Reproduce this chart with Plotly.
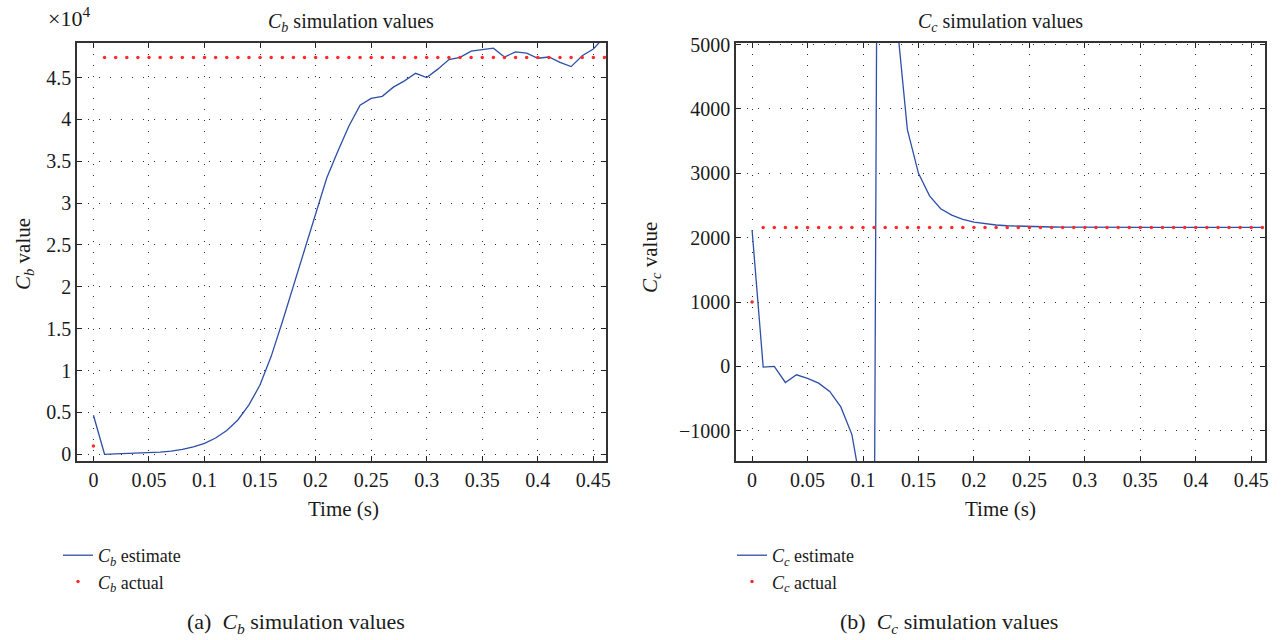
import plotly.graph_objects as go

# ---------------- data ----------------
time_s = [0.00, 0.01, 0.02, 0.03, 0.04, 0.05, 0.06, 0.07, 0.08, 0.09,
          0.10, 0.11, 0.12, 0.13, 0.14, 0.15, 0.16, 0.17, 0.18, 0.19,
          0.20, 0.21, 0.22, 0.23, 0.24, 0.25, 0.26, 0.27, 0.28, 0.29,
          0.30, 0.31, 0.32, 0.33, 0.34, 0.35, 0.36, 0.37, 0.38, 0.39,
          0.40, 0.41, 0.42, 0.43, 0.44, 0.45, 0.46]

cb_estimate = [4660, 0, 40, 80, 120, 180, 260, 380, 580, 880,
               1300, 1950, 2850, 4100, 5900, 8300, 11700, 15800, 20100, 24400,
               28700, 33000, 36200, 39200, 41700, 42500, 42750, 43850, 44600, 45500,
               45000, 46000, 47150, 47400, 48150, 48300, 48500, 47450, 48050, 47900,
               47300, 47450, 46800, 46300, 47600, 48400, 49850]

cb_actual = [1000, 47400, 47400, 47400, 47400, 47400, 47400, 47400, 47400, 47400,
             47400, 47400, 47400, 47400, 47400, 47400, 47400, 47400, 47400, 47400,
             47400, 47400, 47400, 47400, 47400, 47400, 47400, 47400, 47400, 47400,
             47400, 47400, 47400, 47400, 47400, 47400, 47400, 47400, 47400, 47400,
             47400, 47400, 47400, 47400, 47400, 47400, 47400]

cc_estimate = [2120, -10, 0, -250, -130, -185, -260, -390, -630, -1060,
               -2040, -3400, 34600, 5450, 3680, 3000, 2650, 2450, 2350, 2285,
               2240, 2215, 2197, 2185, 2178, 2173, 2169, 2166, 2164, 2162,
               2161, 2160, 2160, 2160, 2160, 2160, 2160, 2160, 2160, 2160,
               2160, 2160, 2160, 2160, 2160, 2160, 2160]

cc_actual = [1000, 2160, 2160, 2160, 2160, 2160, 2160, 2160, 2160, 2160,
             2160, 2160, 2160, 2160, 2160, 2160, 2160, 2160, 2160, 2160,
             2160, 2160, 2160, 2160, 2160, 2160, 2160, 2160, 2160, 2160,
             2160, 2160, 2160, 2160, 2160, 2160, 2160, 2160, 2160, 2160,
             2160, 2160, 2160, 2160, 2160, 2160, 2160]

x_tickvals = [0, 0.05, 0.1, 0.15, 0.2, 0.25, 0.3, 0.35, 0.4, 0.45]
x_ticktext = ["0", "0.05", "0.1", "0.15", "0.2", "0.25", "0.3", "0.35", "0.4", "0.45"]
cb_tickvals = [0, 5000, 10000, 15000, 20000, 25000, 30000, 35000, 40000, 45000]
cb_ticktext = ["0", "0.5", "1", "1.5", "2", "2.5", "3", "3.5", "4", "4.5"]
cc_tickvals = [-1000, 0, 1000, 2000, 3000, 4000, 5000]
cc_ticktext = ["\u22121000", "0", "1000", "2000", "3000", "4000", "5000"]

# ---------------- styling ----------------
W, H = 1282, 640
FONT = "Liberation Serif"
BLUE = "#2d4fa6"
RED = "#ff2a2a"
TXT = "#1a1a1a"


def px(x):
    return x / W


def py(y):
    return 1 - y / H


fig = go.Figure()

fig.add_trace(go.Scatter(x=time_s, y=cb_estimate, mode="lines",
                         line=dict(color=BLUE, width=1.3),
                         name="<i>C<sub>b</sub></i> estimate",
                         xaxis="x", yaxis="y", legend="legend"))
fig.add_trace(go.Scatter(x=time_s, y=cb_actual, mode="markers",
                         marker=dict(color=RED, size=3.5),
                         name="<i>C<sub>b</sub></i> actual",
                         xaxis="x", yaxis="y", legend="legend"))
fig.add_trace(go.Scatter(x=time_s, y=cc_estimate, mode="lines",
                         line=dict(color=BLUE, width=1.3),
                         name="<i>C<sub>c</sub></i> estimate",
                         xaxis="x2", yaxis="y2", legend="legend2"))
fig.add_trace(go.Scatter(x=time_s, y=cc_actual, mode="markers",
                         marker=dict(color=RED, size=3.5),
                         name="<i>C<sub>c</sub></i> actual",
                         xaxis="x2", yaxis="y2", legend="legend2"))

axis_common = dict(
    showgrid=True, gridcolor="#2a2a2a", gridwidth=1, griddash="1.2px,9.8px",
    zeroline=False, showline=True, linecolor="#333333", linewidth=1.5,
    mirror="ticks", ticks="inside", ticklen=5, tickcolor="#222222",
    tickfont=dict(family=FONT, size=20, color=TXT),
    tickmode="array", automargin=False,
)

ydom = [py(461), py(43)]

legend_common = dict(xanchor="left", yanchor="top", bgcolor="rgba(0,0,0,0)",
                     font=dict(family=FONT, size=18, color=TXT),
                     tracegroupgap=0, itemwidth=30)

fig.update_layout(
    width=W, height=H,
    margin=dict(l=0, r=0, t=0, b=0, pad=0, autoexpand=False),
    paper_bgcolor="white", plot_bgcolor="white",
    font=dict(family=FONT, size=17, color=TXT),
    xaxis=dict(domain=[px(77), px(606)], range=[-0.0148, 0.4614],
               tickvals=x_tickvals, ticktext=x_ticktext, anchor="y",
               **axis_common),
    yaxis=dict(domain=ydom, range=[-800, 49120],
               tickvals=cb_tickvals, ticktext=cb_ticktext, anchor="x",
               **axis_common),
    xaxis2=dict(domain=[px(736), px(1265)], range=[-0.0145, 0.4624],
                tickvals=x_tickvals, ticktext=x_ticktext, anchor="y2",
                **axis_common),
    yaxis2=dict(domain=ydom, range=[-1470, 5025],
                tickvals=cc_tickvals, ticktext=cc_ticktext, anchor="x2",
                **axis_common),
    legend=dict(x=px(58), y=py(537), **legend_common),
    legend2=dict(x=px(732), y=py(537), **legend_common),
)

ann = [
    dict(text="\u00d710<sup>4</sup>", x=px(46), y=py(17), xanchor="left", yanchor="middle", size=22),
    dict(text="<i>C<sub>b</sub></i> simulation values", x=px(351), y=py(22), xanchor="center", yanchor="middle", size=20),
    dict(text="<i>C<sub>c</sub></i> simulation values", x=px(1000), y=py(22), xanchor="center", yanchor="middle", size=20),
    dict(text="Time (s)", x=px(343), y=py(509), xanchor="center", yanchor="middle", size=21),
    dict(text="Time (s)", x=px(1000), y=py(509), xanchor="center", yanchor="middle", size=21),
    dict(text="(a)  <i>C<sub>b</sub></i> simulation values", x=px(296), y=py(623), xanchor="center", yanchor="middle", size=22),
    dict(text="(b)  <i>C<sub>c</sub></i> simulation values", x=px(949), y=py(623), xanchor="center", yanchor="middle", size=22),
]
for a in ann:
    fig.add_annotation(text=a["text"], x=a["x"], y=a["y"], xref="paper", yref="paper",
                       xanchor=a["xanchor"], yanchor=a["yanchor"], showarrow=False,
                       font=dict(family=FONT, size=a["size"], color=TXT))

for label, xp, yp in [("<i>C<sub>b</sub></i> value", 24, 254), ("<i>C<sub>c</sub></i> value", 651, 258)]:
    fig.add_annotation(text=label, x=px(xp), y=py(yp), xref="paper", yref="paper",
                       xanchor="center", yanchor="middle", showarrow=False, textangle=-90,
                       font=dict(family=FONT, size=21, color=TXT))

fig.write_html("out.html")
